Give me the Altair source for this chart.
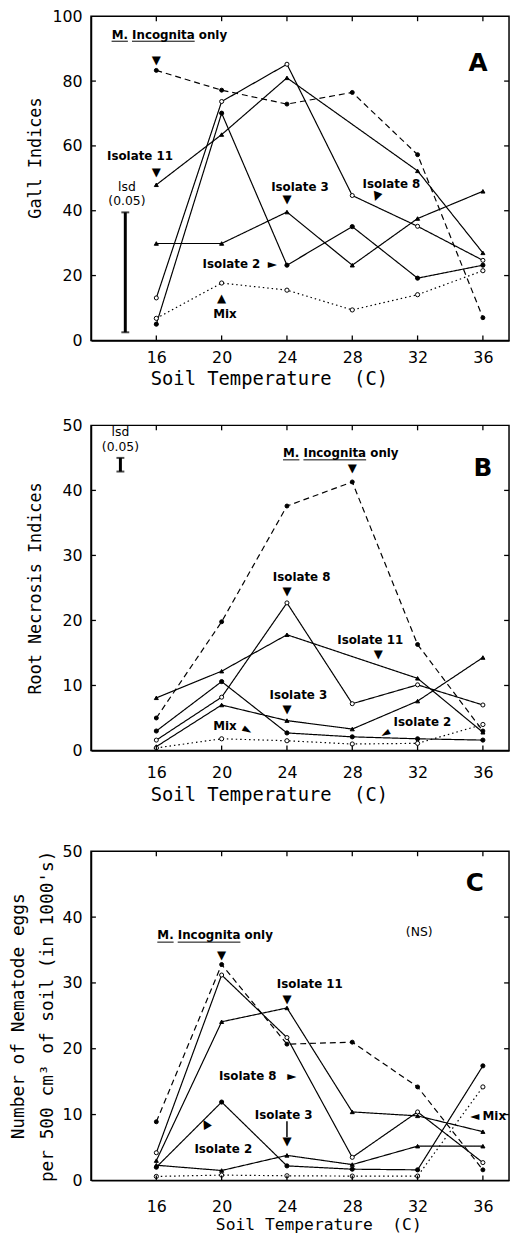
import altair as alt
import pandas as pd

temps = [16, 20, 24, 28, 32, 36]
series = ["M. incognita only", "Isolate 11", "Isolate 8", "Isolate 3", "Isolate 2", "Mix"]

# Panel A: Gall indices
a_minc = [83.3, 77.2, 72.9, 76.5, 57.3, 7.0]
a_iso11 = [48.0, 63.5, 81.0, None, 52.3, 27.0]
a_iso8 = [13.1, 73.7, 85.2, 44.7, 35.2, 24.7]
a_iso3 = [29.9, 29.9, 39.6, 23.2, 37.6, 46.0]
a_iso2 = [5.0, 70.1, 23.2, 35.1, 19.2, 23.2]
a_mix = [6.8, 17.7, 15.5, 9.4, 14.1, 21.5]

# Panel B: Root necrosis indices
b_minc = [5.0, 19.8, 37.6, 41.3, 16.3, 3.0]
b_iso11 = [8.1, 12.2, 17.8, None, 11.1, 2.8]
b_iso8 = [1.6, 8.2, 22.7, 7.2, 10.1, 7.0]
b_iso3 = [0.6, 7.0, 4.6, 3.3, 7.6, 14.3]
b_iso2 = [3.0, 10.6, 2.7, 2.1, 1.8, 1.6]
b_mix = [0.4, 1.8, 1.5, 1.0, 1.1, 4.0]

# Panel C: Nematode eggs
c_minc = [8.9, 32.8, 20.7, 21.0, 14.2, 1.6]
c_iso11 = [3.0, 24.1, 26.2, 10.4, 9.8, 7.4]
c_iso8 = [4.2, 31.2, 21.7, 3.5, 10.4, 2.7]
c_iso3 = [2.3, 1.5, 3.8, 2.4, 5.2, 5.2]
c_iso2 = [2.0, 11.9, 2.2, 1.7, 1.6, 17.4]
c_mix = [0.6, 0.8, 0.7, 0.65, 0.65, 14.2]

# lsd bars (x position, low, high)
a_lsd = [14.1, 2.5, 39.5]
b_lsd = [13.8, 42.9, 45.0]

# bold annotation labels: text, x, y
a_lab_text = ["M. Incognita only", "Isolate 11", "Isolate 3", "Isolate 8", "Isolate 2", "Mix"]
a_lab_x = [16.8, 15.0, 24.8, 30.4, 20.6, 20.2]
a_lab_y = [94.3, 57.0, 47.3, 48.2, 23.5, 8.0]
a_plain_text = ["lsd", "(0.05)"]
a_plain_x = [14.2, 14.2]
a_plain_y = [47.3, 43.0]
a_arr_text = ["▼", "▼", "▼", "▼", "►", "▲"]
a_arr_x = [16.0, 16.0, 24.0, 29.5, 23.1, 20.0]
a_arr_y = [86.5, 52.0, 43.7, 44.6, 23.5, 13.0]
a_arr_angle = [0, 0, 0, 20, 0, 0]

b_lab_text = ["M. Incognita only", "Isolate 8", "Isolate 11", "Isolate 3", "Mix", "Isolate 2"]
b_lab_x = [27.3, 24.9, 29.1, 24.7, 20.2, 32.3]
b_lab_y = [45.7, 26.6, 17.0, 8.5, 3.8, 4.3]
b_plain_text = ["lsd", "(0.05)"]
b_plain_x = [13.8, 13.8]
b_plain_y = [48.9, 46.6]
b_arr_text = ["▼", "▼", "▼", "▼", "►", "◄"]
b_arr_x = [28.0, 24.0, 29.6, 24.0, 21.6, 30.0]
b_arr_y = [43.4, 24.5, 14.8, 6.4, 3.2, 2.7]
b_arr_angle = [0, 0, 0, 0, 30, 330]

c_lab_text = ["M. Incognita only", "Isolate 11", "Isolate 8", "Isolate 3", "Isolate 2", "Mix"]
c_lab_x = [19.6, 25.4, 21.6, 23.8, 20.1, 36.7]
c_lab_y = [37.2, 29.9, 15.9, 9.9, 4.7, 9.8]
c_plain_text = ["(NS)"]
c_plain_x = [32.1]
c_plain_y = [37.7]
c_arr_text = ["▼", "▼", "►", "▼", "▲", "◄"]
c_arr_x = [20.0, 24.0, 24.3, 24.0, 19.0, 35.5]
c_arr_y = [34.2, 27.6, 15.9, 5.9, 8.7, 9.8]
c_arr_angle = [0, 0, 0, 0, 330, 0]
c_arrow_shaft = [24.0, 9.0, 6.6]

# underlines under "M." and "Incognita" (x start, x end, y)
a_ul = [[13.26, 14.26, 92.3], [14.51, 18.35, 92.3]]
b_ul = [[23.76, 24.76, 44.7], [25.01, 28.85, 44.7]]
c_ul = [[16.06, 17.06, 36.2], [17.31, 21.15, 36.2]]

letters = ["A", "B", "C"]
letter_x = [35.7, 36.0, 35.5]
letter_y = [85.5, 43.5, 45.2]

X_DOMAIN = [12, 37.6]
dash_range = [[6, 4], [1, 0], [1, 0], [1, 0], [1, 0], [1.5, 3]]
shape_range = ["circle", "triangle-up", "circle", "triangle-up", "circle", "circle"]
fill_range = ["black", "black", "white", "black", "black", "white"]
size_range = [16, 18, 30, 18, 16, 24]
FONT = "DejaVu Sans"
MONO = "DejaVu Sans Mono"
XTITLE = "Soil Temperature\u00a0 (C)"
TICK_X = 0.3  # inward tick length in x units (~5 px)


def series_df(vals):
    rows = []
    for name, ys in zip(series, vals):
        for t, v in zip(temps, ys):
            if v is not None:
                rows.append({"temp": t, "value": v, "series": name})
    return pd.DataFrame(rows)


def panel(vals, ymax, ystep, ytitle, lab, plain, arr, ul, letter_i, lsd, height, ytitle_pad,
          xlabel_pad, xtitle_x, xtitle_size, xtitle_pad, shaft=None, ytitle_size=17, ytitle_y=None):
    xs = alt.Scale(domain=X_DOMAIN, nice=False, zero=False)
    ys = alt.Scale(domain=[0, ymax], nice=False)
    yvals = list(range(0, ymax + 1, ystep))
    tick_y = ymax * 5.0 / height
    xax = alt.Axis(values=temps, title=XTITLE, tickSize=0, labelPadding=xlabel_pad,
                   titlePadding=xtitle_pad, titleFont=MONO, titleFontSize=xtitle_size,
                   titleX=xtitle_x, titleAlign="center")
    yargs = dict(values=yvals, title=ytitle, tickSize=0, labelPadding=9, titlePadding=ytitle_pad,
                 titleFont=MONO, titleFontSize=ytitle_size, titleLineHeight=29)
    if ytitle_y is not None:
        yargs["titleY"] = ytitle_y
    yax = alt.Axis(**yargs)
    df = series_df(vals)
    base = alt.Chart(df)
    lines = base.mark_line(color="black", strokeWidth=1.2).encode(
        x=alt.X("temp:Q", scale=xs, axis=xax),
        y=alt.Y("value:Q", scale=ys, axis=yax),
        detail="series:N",
        strokeDash=alt.StrokeDash("series:N", scale=alt.Scale(domain=series, range=dash_range), legend=None),
    )
    pts = base.mark_point(filled=True, stroke="black", strokeWidth=1, opacity=1).encode(
        x=alt.X("temp:Q", scale=xs),
        y=alt.Y("value:Q", scale=ys),
        shape=alt.Shape("series:N", scale=alt.Scale(domain=series, range=shape_range), legend=None),
        fill=alt.Fill("series:N", scale=alt.Scale(domain=series, range=fill_range), legend=None),
        size=alt.Size("series:N", scale=alt.Scale(domain=series, range=size_range), legend=None),
    )
    # inward frame ticks on all four sides
    xt = pd.DataFrame({"t": temps})
    yt = pd.DataFrame({"v": yvals[1:-1]})
    tk = dict(color="black", strokeWidth=1.3)
    ticks = [
        alt.Chart(xt).mark_rule(**tk).encode(x=alt.X("t:Q", scale=xs), y=alt.datum(0), y2=alt.datum(tick_y)),
        alt.Chart(xt).mark_rule(**tk).encode(x=alt.X("t:Q", scale=xs), y=alt.datum(ymax),
                                             y2=alt.datum(ymax - tick_y)),
        alt.Chart(yt).mark_rule(**tk).encode(y=alt.Y("v:Q", scale=ys), x=alt.datum(X_DOMAIN[0]),
                                             x2=alt.datum(X_DOMAIN[0] + TICK_X)),
        alt.Chart(yt).mark_rule(**tk).encode(y=alt.Y("v:Q", scale=ys), x=alt.datum(X_DOMAIN[1]),
                                             x2=alt.datum(X_DOMAIN[1] - TICK_X)),
    ]
    lab_df = pd.DataFrame({"text": lab[0], "x": lab[1], "y": lab[2]})
    labels = alt.Chart(lab_df).mark_text(font=FONT, fontWeight="bold", fontSize=12, color="black").encode(
        x=alt.X("x:Q", scale=xs), y=alt.Y("y:Q", scale=ys), text="text:N")
    pl_df = pd.DataFrame({"text": plain[0], "x": plain[1], "y": plain[2]})
    plains = alt.Chart(pl_df).mark_text(font=FONT, fontSize=12.5, color="black").encode(
        x=alt.X("x:Q", scale=xs), y=alt.Y("y:Q", scale=ys), text="text:N")
    arr_df = pd.DataFrame({"text": arr[0], "x": arr[1], "y": arr[2], "angle": arr[3]})
    arrows = alt.Chart(arr_df).mark_text(font=FONT, fontSize=12, color="black").encode(
        x=alt.X("x:Q", scale=xs), y=alt.Y("y:Q", scale=ys), text="text:N",
        angle=alt.Angle("angle:Q", scale=None))
    ul_df = pd.DataFrame({"x0": [u[0] for u in ul], "x1": [u[1] for u in ul], "y": [u[2] for u in ul]})
    unders = alt.Chart(ul_df).mark_rule(color="black", strokeWidth=1).encode(
        x=alt.X("x0:Q", scale=xs), x2="x1:Q", y=alt.Y("y:Q", scale=ys))
    let_df = pd.DataFrame({"text": [letters[letter_i]], "x": [letter_x[letter_i]], "y": [letter_y[letter_i]]})
    letter = alt.Chart(let_df).mark_text(font=FONT, fontWeight="bold", fontSize=25, color="black").encode(
        x=alt.X("x:Q", scale=xs), y=alt.Y("y:Q", scale=ys), text="text:N")
    layers = [lines, pts] + ticks + [labels, plains, arrows, unders, letter]
    if lsd is not None:
        lsd_df = pd.DataFrame({"x": [lsd[0]], "lo": [lsd[1]], "hi": [lsd[2]]})
        bar = alt.Chart(lsd_df).mark_rule(color="black", strokeWidth=3).encode(
            x=alt.X("x:Q", scale=xs), y=alt.Y("lo:Q", scale=ys), y2="hi:Q")
        caps = alt.Chart(lsd_df).transform_fold(["lo", "hi"], as_=["end", "v"]).mark_tick(
            color="black", thickness=2, size=8, orient="horizontal").encode(
            x=alt.X("x:Q", scale=xs), y=alt.Y("v:Q", scale=ys))
        layers += [bar, caps]
    if shaft is not None:
        sh_df = pd.DataFrame({"x": [shaft[0]], "lo": [shaft[2]], "hi": [shaft[1]]})
        layers.append(alt.Chart(sh_df).mark_rule(color="black", strokeWidth=1.5).encode(
            x=alt.X("x:Q", scale=xs), y=alt.Y("lo:Q", scale=ys), y2="hi:Q"))
    return alt.layer(*layers).properties(width=423, height=height)


pA = panel([a_minc, a_iso11, a_iso8, a_iso3, a_iso2, a_mix], 100, 20, "Gall Indices",
           (a_lab_text, a_lab_x, a_lab_y), (a_plain_text, a_plain_x, a_plain_y),
           (a_arr_text, a_arr_x, a_arr_y, a_arr_angle), a_ul, 0, a_lsd, 328, 8,
           xlabel_pad=9, xtitle_x=180, xtitle_size=19, xtitle_pad=5, ytitle_y=143)
pB = panel([b_minc, b_iso11, b_iso8, b_iso3, b_iso2, b_mix], 50, 10, "Root Necrosis Indices",
           (b_lab_text, b_lab_x, b_lab_y), (b_plain_text, b_plain_x, b_plain_y),
           (b_arr_text, b_arr_x, b_arr_y, b_arr_angle), b_ul, 1, b_lsd, 329, 18,
           xlabel_pad=14, xtitle_x=180, xtitle_size=19, xtitle_pad=6)
pC = panel([c_minc, c_iso11, c_iso8, c_iso3, c_iso2, c_mix], 50, 10,
           ["Number of Nematode eggs", "per 500 cm³ of soil (in 1000's)"],
           (c_lab_text, c_lab_x, c_lab_y), (c_plain_text, c_plain_x, c_plain_y),
           (c_arr_text, c_arr_x, c_arr_y, c_arr_angle), c_ul, 2, None, 333, 6,
           xlabel_pad=19, xtitle_x=230, xtitle_size=16.5, xtitle_pad=2,
           shaft=c_arrow_shaft, ytitle_size=18).properties(
    title=alt.TitleParams(" ", fontSize=9, offset=1))

chart = alt.vconcat(pA, pB, pC, spacing=27).properties(
    padding={"left": 0, "top": -8, "right": 0, "bottom": 0}
).configure_view(stroke="black", strokeWidth=1.5).configure_axis(
    labelFont=FONT, labelFontSize=16, titleFont=MONO, titleFontSize=17, titleFontWeight="normal",
    labelColor="black", titleColor="black", domainColor="black", tickColor="black",
    grid=False, domainWidth=1.5,
)

chart.save("out.html", embed_options={"renderer": "svg", "actions": False})
